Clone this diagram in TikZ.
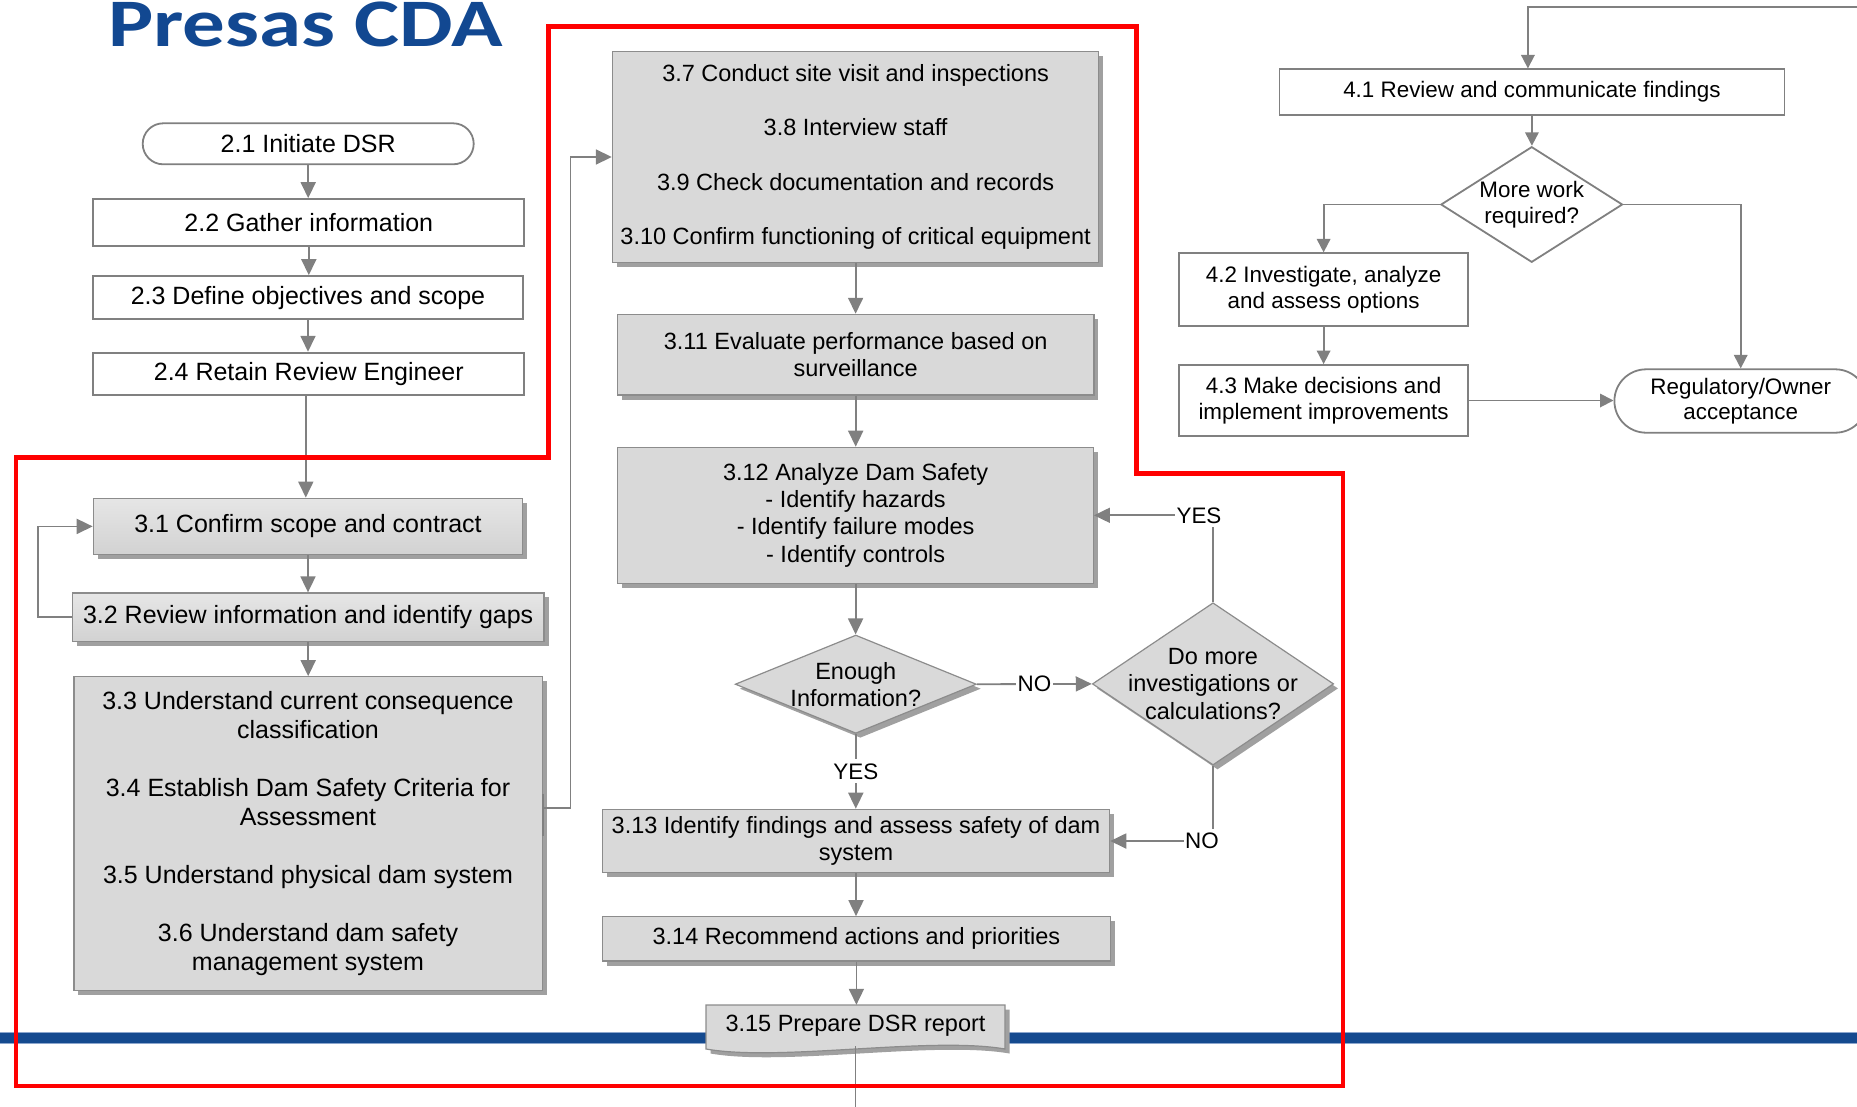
\documentclass[tikz,border=0pt]{standalone}
\usepackage{graphicx}
\usepackage{fontspec}
\setmainfont{Liberation Sans}
\newfontfamily\titlefont{Carlito}
\usetikzlibrary{arrows.meta,shapes.geometric,shadows}

\definecolor{linegray}{RGB}{128,128,128}
\definecolor{edgegray}{RGB}{140,140,140}
\definecolor{boxgray}{RGB}{217,217,217}
\definecolor{gradtop}{RGB}{230,230,230}
\definecolor{gradbot}{RGB}{210,210,210}
\definecolor{shadowgray}{RGB}{160,160,160}
\definecolor{titleblue}{RGB}{18,72,145}
\definecolor{bandblue}{RGB}{21,74,143}
\definecolor{bandedge}{RGB}{140,166,205}
\definecolor{framered}{RGB}{255,0,0}

\newcommand{\fsA}{\fontsize{25pt}{29pt}\selectfont}
\newcommand{\fsB}{\fontsize{23.5pt}{27.2pt}\selectfont}
\newcommand{\fsC}{\fontsize{22.4pt}{25.5pt}\selectfont}

\tikzset{
  whitebox/.style={rectangle, draw=linegray, line width=1.8pt, fill=white, inner sep=0pt, align=center},
  greybox/.style={rectangle, draw=edgegray, line width=1.2pt, fill=boxgray, inner sep=0pt, align=center,
    drop shadow={shadow xshift=4.5pt, shadow yshift=-4.5pt, fill=shadowgray, opacity=1}},
  graded/.style={top color=gradtop, bottom color=gradbot},
  terminal/.style={whitebox, rounded corners=#1},
  greydecision/.style={diamond, draw=edgegray, line width=1.2pt, fill=boxgray, inner sep=0pt,
    drop shadow={shadow xshift=4.5pt, shadow yshift=-4.5pt, fill=shadowgray, opacity=1}},
  whitedecision/.style={diamond, draw=linegray, line width=1.8pt, fill=white, inner sep=0pt},
  inside/.style={align=center, inner sep=0pt},
  flow/.style={draw=linegray, line width=1.8pt, -{Triangle[length=16pt,width=15pt]}},
  flowsmall/.style={draw=linegray, line width=1.8pt, -{Triangle[length=13.5pt,width=13.5pt]}},
  plainline/.style={draw=linegray, line width=1.8pt},
  answer/.style={fill=white, inner xsep=1.5pt, inner ysep=4pt, font=\fsC},
}

\begin{document}
\begin{tikzpicture}[x=1pt,y=-1pt]
\useasboundingbox (0,0) rectangle (1857,1106);

% horizontal band across the page
\fill[bandblue] (0,1033.3) rectangle (1857,1043.3);
\draw[bandedge, line width=1pt] (0,1032.8) -- (1857,1032.8) (0,1043.8) -- (1857,1043.8);

% heading
\node[anchor=base west, inner sep=0pt, text=titleblue] (title) at (108,46)
  {\titlefont\bfseries\fontsize{68pt}{68pt}\selectfont\scalebox{1.25}[1]{Presas CDA}};

% document shape of step 3.15 (shadow first, then the body)
\fill[shadowgray, xshift=4.5pt, yshift=-4.5pt] (706,1005) -- (1005,1005) -- (1005,1049)
  .. controls (930,1036) and (780,1062) .. (706,1049) -- cycle;
\filldraw[fill=boxgray, draw=edgegray, line width=1.2pt] (706,1005) -- (1005,1005) -- (1005,1049)
  .. controls (930,1036) and (780,1062) .. (706,1049) -- cycle;

% phase 2
\node[terminal=20.5pt, font=\fsA, minimum width=331pt, minimum height=41pt] (n21) at (308.2,143.8) {2.1 Initiate DSR};
\node[whitebox, font=\fsA, minimum width=431pt, minimum height=46.7pt] (n22) at (308.8,222.4) {2.2 Gather information};
\node[whitebox, font=\fsA, minimum width=429.4pt, minimum height=43.3pt] (n23) at (308,297.7) {2.3 Define objectives and scope};
\node[whitebox, font=\fsA, minimum width=431pt, minimum height=42.3pt] (n24) at (308.8,373.8) {2.4 Retain Review Engineer};

% phase 3, left column
\node[greybox, graded, font=\fsA, minimum width=429.4pt, minimum height=56.4pt] (n31) at (308,526.4) {3.1 Confirm scope and contract};
\node[greybox, graded, font=\fsA, minimum width=471.6pt, minimum height=48.5pt] (n32) at (308.2,617.2) {3.2 Review information and identify gaps};
\node[greybox, font=\fsA, minimum width=468.2pt, minimum height=313.5pt] (n33) at (308,833.5)
  {3.3 Understand current consequence\\classification\\[29pt]3.4 Establish Dam Safety Criteria for\\Assessment\\[29pt]3.5 Understand physical dam system\\[29pt]3.6 Understand dam safety\\management system};

% phase 3, right column
\node[greybox, font=\fsB, minimum width=486.4pt, minimum height=210.6pt] (n37) at (855.6,157)
  {3.7 Conduct site visit and inspections\\[27.2pt]3.8 Interview staff\\[27.2pt]3.9 Check documentation and records\\[27.2pt]3.10 Confirm functioning of critical equipment};
\node[greybox, font=\fsB, minimum width=476.5pt, minimum height=80.7pt] (n311) at (855.7,354.7)
  {3.11 Evaluate performance based on\\surveillance};
\node[greybox, font=\fsB, minimum width=475.5pt, minimum height=136pt] (n312) at (855.6,515.3)
  {3.12 Analyze Dam Safety\\- Identify hazards\\- Identify failure modes\\- Identify controls};
\node[greydecision, minimum width=241.2pt, minimum height=98.3pt,
  label={[inside, font=\fsB]center:{Enough\\Information?}}] (nEnough) at (855.8,684.2) {};
\node[greydecision, minimum width=241.3pt, minimum height=162.3pt,
  label={[inside, font=\fsB]center:{Do more\\investigations or\\calculations?}}] (nDoMore) at (1213,683.9) {};
\node[greybox, font=\fsB, minimum width=507.3pt, minimum height=63.4pt] (n313) at (856,841)
  {3.13 Identify findings and assess safety of dam\\system};
\node[greybox, font=\fsB, minimum width=508pt, minimum height=44.3pt] (n314) at (856.4,938.9)
  {3.14 Recommend actions and priorities};
\node[inside, font=\fsB, minimum width=299pt, minimum height=41pt] (n315) at (855.5,1025.5)
  {3.15 Prepare DSR report};
\coordinate (reportend) at (855.5,1110);

% phase 4
\node[whitebox, font=\fsC, minimum width=505pt, minimum height=45.7pt] (n41) at (1531.9,92.2)
  {4.1 Review and communicate findings};
\node[whitedecision, minimum width=181.7pt, minimum height=115.6pt,
  label={[inside, font=\fsC]center:{More work\\required?}}] (nMore) at (1531.7,204.5) {};
\node[whitebox, font=\fsC, minimum width=288.6pt, minimum height=72.4pt] (n42) at (1323.6,289.5)
  {4.2 Investigate, analyze\\and assess options};
\node[whitebox, font=\fsC, minimum width=288.6pt, minimum height=71pt] (n43) at (1323.6,400.5)
  {4.3 Make decisions and\\implement improvements};
\node[terminal=31.7pt, font=\fsC, minimum width=252.6pt, minimum height=63.4pt] (nReg) at (1740.7,401)
  {Regulatory/Owner\\acceptance};
\coordinate (fromprev) at (1860,7);

% connectors, phase 2 and 3
\draw[flow] (n21.south) -- (n21.south |- n22.north);
\draw[flow] (n22.south) -- (n22.south |- n23.north);
\draw[flow] (n23.south) -- (n23.south |- n24.north);
\draw[flow] ([xshift=-3pt]n24.south) -- ([xshift=-3pt]n24.south |- n31.north);
\draw[flow] (n31.south) -- (n31.south |- n32.north);
\draw[flow] (n32.west) -- ++(-34,0) |- (n31.west);
\draw[flow] (n32.south) -- (n32.south |- n33.north);
\draw[plainline, line width=2.2pt] ([yshift=40pt]n33.east) -- ([yshift=-2pt]n33.east);
\draw[flow] ([yshift=25.5pt]n33.east) -- ++(27.7,0) |- (n37.west);
\draw[flow] (n37.south) -- (n37.south |- n311.north);
\draw[flow] (n311.south) -- (n311.south |- n312.north);
\draw[flow] (n312.south) -- (n312.south |- nEnough.north);
\draw[flow] (nEnough.east) -- node[answer]{NO} (nDoMore.west);
\draw[flow] (nDoMore.north) |- node[answer, pos=0.5, xshift=-14pt]{YES} (n312.east);
\draw[flow] (nDoMore.south) |- node[answer, pos=0.5, xshift=-11pt]{NO} (n313.east);
\draw[flow] (nEnough.south) -- node[answer]{YES} (nEnough.south |- n313.north);
\draw[flow] (n313.south) -- (n313.south |- n314.north);
\draw[flow] (n314.south) -- (n314.south |- n315.north);
\draw[plainline] (n315.south) -- (reportend);

% connectors, phase 4
\draw[flowsmall] (fromprev) -| ([xshift=-4pt]n41.north);
\draw[flowsmall] (n41.south) -- (n41.south |- nMore.north);
\draw[flowsmall] (nMore.west) -| (n42.north);
\draw[flowsmall] (nMore.east) -| (nReg.north);
\draw[flowsmall] (n42.south) -- (n42.south |- n43.north);
\draw[flowsmall] (n43.east) -- (n43.east -| nReg.west);

% red outline around phase 3
\draw[framered, line width=4.5pt, line join=miter]
  (15.8,457.3) -- (548.6,457.3) -- (548.6,26.7) -- (1136.5,26.7) -- (1136.5,473.3)
  -- (1343.2,473.3) -- (1343.2,1085.8) -- (15.8,1085.8) -- cycle;
\end{tikzpicture}
\end{document}
